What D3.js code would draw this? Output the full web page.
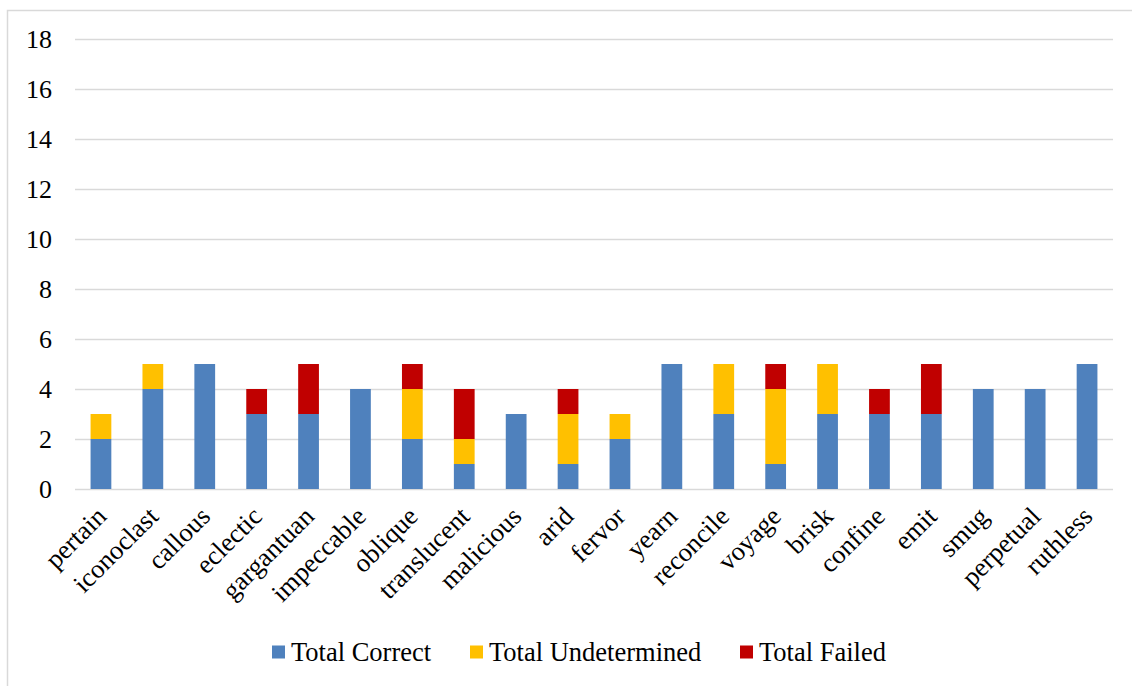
<!DOCTYPE html>
<html>
<head>
<meta charset="utf-8">
<script src="https://cdn.jsdelivr.net/npm/d3@7"></script>
<style>
  html, body { margin: 0; padding: 0; background: #fff; }
  svg { display: block; }
</style>
</head>
<body>
<svg id="chart" width="1132" height="686" font-family="'Liberation Serif', 'Times New Roman', 'DejaVu Serif', serif"></svg>
<script>
// Words tested and how each attempt was scored
const words = ["pertain", "iconoclast", "callous", "eclectic", "gargantuan", "impeccable",
  "oblique", "translucent", "malicious", "arid", "fervor", "yearn", "reconcile", "voyage",
  "brisk", "confine", "emit", "smug", "perpetual", "ruthless"];
const totalCorrect      = [2, 4, 5, 3, 3, 4, 2, 1, 3, 1, 2, 5, 3, 1, 3, 3, 3, 4, 4, 5];
const totalUndetermined = [1, 1, 0, 0, 0, 0, 2, 1, 0, 2, 1, 0, 2, 3, 2, 0, 0, 0, 0, 0];
const totalFailed       = [0, 0, 0, 1, 2, 0, 1, 2, 0, 1, 0, 0, 0, 1, 0, 1, 2, 0, 0, 0];
const seriesNames = ["Total Correct", "Total Undetermined", "Total Failed"];
const seriesColors = ["#4f81bd", "#ffc000", "#c00000"];
const yTicks = [0, 2, 4, 6, 8, 10, 12, 14, 16, 18];

const svg = d3.select("#chart");
const W = 1132, H = 686;
const plot = { left: 75, right: 1113, top: 39, bottom: 489 };

// Chart border
svg.append("rect")
  .attr("x", 7.5).attr("y", 10.5)
  .attr("width", W + 10).attr("height", H + 10)
  .attr("fill", "none").attr("stroke", "#d9d9d9").attr("stroke-width", 1.5);

const x = d3.scaleBand().domain(words).range([plot.left, plot.right]).paddingInner(0.6).paddingOuter(0.3);
const y = d3.scaleLinear().domain([0, 18]).range([plot.bottom, plot.top]);

// Horizontal gridlines
svg.append("g").selectAll("line").data(yTicks).join("line")
  .attr("x1", plot.left).attr("x2", plot.right)
  .attr("y1", d => Math.round(y(d)) + 0.5).attr("y2", d => Math.round(y(d)) + 0.5)
  .attr("stroke", "#d9d9d9").attr("stroke-width", 1.5);

// Y tick labels
svg.append("g").selectAll("text").data(yTicks).join("text")
  .attr("x", 52).attr("y", d => y(d))
  .attr("dy", "0.35em")
  .attr("text-anchor", "end")
  .attr("font-size", 26)
  .text(d => d);

// Stacked bars
const rows = words.map((w, i) => ({
  word: w,
  "Total Correct": totalCorrect[i],
  "Total Undetermined": totalUndetermined[i],
  "Total Failed": totalFailed[i]
}));
const stacked = d3.stack().keys(seriesNames)(rows);

svg.append("g").selectAll("g").data(stacked).join("g")
  .attr("fill", (d, i) => seriesColors[i])
  .selectAll("rect").data(d => d.filter(s => s[1] > s[0])).join("rect")
  .attr("x", d => x(d.data.word))
  .attr("width", x.bandwidth())
  .attr("y", d => y(d[1]))
  .attr("height", d => y(d[0]) - y(d[1]));

// Rotated category labels
svg.append("g").selectAll("text").data(words).join("text")
  .attr("font-size", 26.5)
  .attr("text-anchor", "end")
  .attr("transform", d => `translate(${x(d) + x.bandwidth() / 2 + 7},${plot.bottom + 29}) rotate(-45)`)
  .text(d => d);

// Legend
const legendItems = [
  { name: seriesNames[0], color: seriesColors[0], x: 272 },
  { name: seriesNames[1], color: seriesColors[1], x: 470 },
  { name: seriesNames[2], color: seriesColors[2], x: 740 }
];
const lg = svg.append("g").selectAll("g").data(legendItems).join("g")
  .attr("transform", d => `translate(${d.x},652)`);
lg.append("rect").attr("x", 0).attr("y", -6.5).attr("width", 13).attr("height", 13)
  .attr("fill", d => d.color);
lg.append("text").attr("x", 19).attr("y", 0).attr("dy", "0.35em")
  .attr("font-size", 26.5)
  .text(d => d.name);
</script>
</body>
</html>
